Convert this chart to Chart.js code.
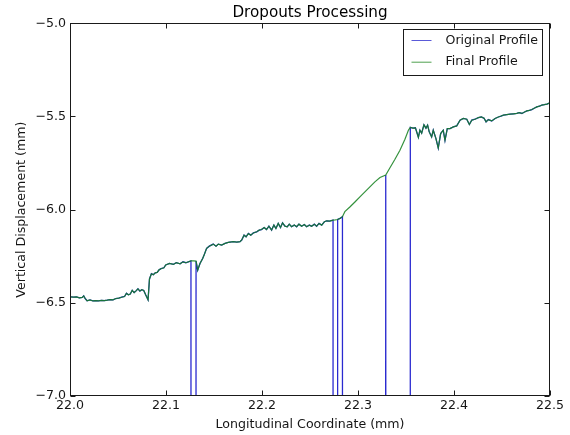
<!DOCTYPE html>
<html>
<head>
<meta charset="utf-8">
<script src="https://cdn.jsdelivr.net/npm/chart.js@4/dist/chart.umd.min.js"></script>
<style>
  html, body { margin: 0; padding: 0; background: #ffffff; }
  canvas { display: block; }
</style>
</head>
<body>
<canvas id="chart" width="570" height="435"></canvas>
<script>
// Sample positions along the profile (mm)
const coordinate = [
  22.0000, 22.0038, 22.0068, 22.0098, 22.0128, 22.0143, 22.0158, 22.0178, 22.0208, 22.0238,
  22.0268, 22.0298, 22.0328, 22.0358, 22.0388, 22.0418, 22.0448, 22.0478, 22.0508, 22.0538,
  22.0568, 22.0588, 22.0608, 22.0628, 22.0648, 22.0668, 22.0688, 22.0708, 22.0728, 22.0748,
  22.0768, 22.0788, 22.0813, 22.0828, 22.0848, 22.0868, 22.0888, 22.0908, 22.0928, 22.0948,
  22.0978,
  22.0997, 22.1037, 22.1077, 22.1107, 22.1147, 22.1177, 22.1207, 22.1260, 22.1287, 22.1313,
  22.1330, 22.1354, 22.1382, 22.1397, 22.1423, 22.1451, 22.1492, 22.1521, 22.1545, 22.1580,
  22.1615, 22.1649, 22.1701, 22.1737, 22.1771, 22.1789, 22.1813, 22.1834, 22.1858, 22.1883,
  22.1910, 22.1945,
  22.1971, 22.1995, 22.2023, 22.2047, 22.2072, 22.2100, 22.2124, 22.2145, 22.2169, 22.2193,
  22.2214, 22.2239, 22.2263, 22.2284, 22.2308, 22.2336, 22.2361, 22.2385, 22.2413, 22.2441,
  22.2465, 22.2493, 22.2517, 22.2545, 22.2569, 22.2594, 22.2622, 22.2650, 22.2674, 22.2705,
  22.2740, 22.2763, 22.2788, 22.2813, 22.2838,
  22.2863, 22.2915, 22.2968, 22.3020, 22.3072, 22.3124, 22.3176, 22.3229, 22.3289, 22.3333,
  22.3385, 22.3437, 22.3489, 22.3526, 22.3545,
  22.3572, 22.3598, 22.3629, 22.3645, 22.3663, 22.3687, 22.3708, 22.3725, 22.3742, 22.3767,
  22.3784, 22.3812, 22.3836, 22.3861, 22.3888, 22.3906, 22.3930, 22.3958, 22.3993, 22.4028,
  22.4063, 22.4097, 22.4133, 22.4160, 22.4185, 22.4219, 22.4254, 22.4285, 22.4313, 22.4334,
  22.4358, 22.4393, 22.4428, 22.4462, 22.4490, 22.4515, 22.4550, 22.4584, 22.4620, 22.4654,
  22.4680, 22.4707, 22.4735, 22.4759, 22.4785, 22.4811, 22.4840, 22.4863, 22.4890, 22.4915,
  22.4940, 22.4968, 22.5000
];

// Profile after dropout correction (mm)
const finalProfile = [
  -6.468, -6.470, -6.468, -6.473, -6.471, -6.463, -6.477, -6.489, -6.484, -6.490,
  -6.488, -6.490, -6.487, -6.488, -6.486, -6.483, -6.484, -6.477, -6.475, -6.470,
  -6.466, -6.449, -6.457, -6.453, -6.433, -6.445, -6.436, -6.425, -6.437, -6.430,
  -6.434, -6.457, -6.484, -6.372, -6.344, -6.349, -6.339, -6.337, -6.323, -6.317,
  -6.312,
  -6.297, -6.289, -6.294, -6.285, -6.291, -6.280, -6.285, -6.275, -6.275, -6.276,
  -6.325, -6.289, -6.262, -6.244, -6.208, -6.196, -6.185, -6.196, -6.185, -6.190,
  -6.181, -6.176, -6.172, -6.174, -6.172, -6.163, -6.137, -6.146, -6.128, -6.137,
  -6.125, -6.119,
  -6.110, -6.107, -6.096, -6.107, -6.089, -6.110, -6.083, -6.101, -6.074, -6.096,
  -6.071, -6.089, -6.092, -6.078, -6.092, -6.083, -6.092, -6.078, -6.089, -6.080,
  -6.092, -6.083, -6.089, -6.078, -6.089, -6.074, -6.083, -6.065, -6.060, -6.062,
  -6.056, -6.055, -6.053, -6.047, -6.038,
  -6.011, -5.986, -5.959, -5.932, -5.905, -5.878, -5.851, -5.828, -5.814, -5.775,
  -5.730, -5.681, -5.622, -5.573, -5.559,
  -5.563, -5.561, -5.612, -5.574, -5.590, -5.545, -5.563, -5.547, -5.583, -5.610,
  -5.574, -5.619, -5.670, -5.592, -5.574, -5.628, -5.565, -5.565, -5.556, -5.551,
  -5.520, -5.511, -5.515, -5.543, -5.520, -5.515, -5.506, -5.503, -5.510, -5.529,
  -5.517, -5.524, -5.511, -5.503, -5.498, -5.493, -5.490, -5.488, -5.486, -5.484,
  -5.480, -5.484, -5.476, -5.470, -5.468, -5.463, -5.455, -5.449, -5.445, -5.439,
  -5.437, -5.434, -5.427
];

// Raw profile as measured; DROP marks a sensor dropout reading
const DROP = -100;
const originalProfile = [
  -6.468, -6.470, -6.468, -6.473, -6.471, -6.463, -6.477, -6.489, -6.484, -6.490,
  -6.488, -6.490, -6.487, -6.488, -6.486, -6.483, -6.484, -6.477, -6.475, -6.470,
  -6.466, -6.449, -6.457, -6.453, -6.433, -6.445, -6.436, -6.425, -6.437, -6.430,
  -6.434, -6.457, -6.484, -6.372, -6.344, -6.349, -6.339, -6.337, -6.323, -6.317,
  -6.312,
  -6.297, -6.289, -6.294, -6.285, -6.291, -6.280, -6.285, -6.275, DROP,   -6.276,
  -6.325, -6.289, -6.262, -6.244, -6.208, -6.196, -6.185, -6.196, -6.185, -6.190,
  -6.181, -6.176, -6.172, -6.174, -6.172, -6.163, -6.137, -6.146, -6.128, -6.137,
  -6.125, -6.119,
  -6.110, -6.107, -6.096, -6.107, -6.089, -6.110, -6.083, -6.101, -6.074, -6.096,
  -6.071, -6.089, -6.092, -6.078, -6.092, -6.083, -6.092, -6.078, -6.089, -6.080,
  -6.092, -6.083, -6.089, -6.078, -6.089, -6.074, -6.083, -6.065, -6.060, -6.062,
  -6.056, DROP,   -6.053, -6.047, -6.038,
  DROP,   DROP,   DROP,   DROP,   DROP,   DROP,   DROP,   DROP,   -5.814, DROP,
  DROP,   DROP,   DROP,   DROP,   -5.559,
  -5.563, -5.561, -5.612, -5.574, -5.590, -5.545, -5.563, -5.547, -5.583, -5.610,
  -5.574, -5.619, -5.670, -5.592, -5.574, -5.628, -5.565, -5.565, -5.556, -5.551,
  -5.520, -5.511, -5.515, -5.543, -5.520, -5.515, -5.506, -5.503, -5.510, -5.529,
  -5.517, -5.524, -5.511, -5.503, -5.498, -5.493, -5.490, -5.488, -5.486, -5.484,
  -5.480, -5.484, -5.476, -5.470, -5.468, -5.463, -5.455, -5.449, -5.445, -5.439,
  -5.437, -5.434, -5.427
];

const xTickValues = [22.0, 22.1, 22.2, 22.3, 22.4, 22.5];
const yTickValues = [-7.0, -6.5, -6.0, -5.5, -5.0];

const FONT = "'DejaVu Sans', 'Liberation Sans', sans-serif";
const TEXT = '#161616';
const BASE_SIZE = 12.6;
const toPoints = (values) => coordinate.map((x, i) => ({ x, y: values[i] }));
const minusLabel = (v) => (v < 0 ? '\u2212' : '') + Math.abs(v).toFixed(1);

// Box frame with inward tick marks on all four sides
const frameTicks = {
  id: 'frameTicks',
  afterDatasetsDraw(chart) {
    const { ctx, chartArea: a, scales } = chart;
    const L = Math.round(a.left) + 0.5, R = Math.round(a.right) - 0.5;
    const T = Math.round(a.top) + 0.5, B = Math.round(a.bottom) - 0.5;
    const len = 5;
    ctx.save();
    ctx.strokeStyle = '#1a1a1a';
    ctx.lineWidth = 1;
    ctx.beginPath();
    scales.x.ticks.forEach(t => {
      const px = Math.round(scales.x.getPixelForValue(t.value)) + 0.5;
      ctx.moveTo(px, B); ctx.lineTo(px, B - len);
      ctx.moveTo(px, T); ctx.lineTo(px, T + len);
    });
    scales.y.ticks.forEach(t => {
      const py = Math.round(scales.y.getPixelForValue(t.value)) + 0.5;
      ctx.moveTo(L, py); ctx.lineTo(L + len, py);
      ctx.moveTo(R, py); ctx.lineTo(R - len, py);
    });
    ctx.stroke();
    ctx.strokeRect(L, T, R - L, B - T);
    ctx.restore();
  }
};

// Boxed legend in the upper right corner of the plot
const boxLegend = {
  id: 'boxLegend',
  afterDraw(chart) {
    const { ctx, chartArea: a } = chart;
    const w = 139, h = 46;
    const left = Math.round(a.right) - 8 - w + 0.5;
    const top = Math.round(a.top) + 6 + 0.5;
    ctx.save();
    ctx.fillStyle = '#ffffff';
    ctx.fillRect(left, top, w, h);
    ctx.strokeStyle = '#1a1a1a';
    ctx.lineWidth = 1;
    ctx.strokeRect(left, top, w, h);
    ctx.font = BASE_SIZE + 'px ' + FONT;
    ctx.textBaseline = 'middle';
    ctx.textAlign = 'left';
    chart.data.datasets.forEach((ds, i) => {
      const yy = top + 11 + i * 21.7;
      ctx.strokeStyle = ds.legendColor;
      ctx.lineWidth = 1;
      ctx.beginPath();
      ctx.moveTo(left + 8, yy);
      ctx.lineTo(left + 28, yy);
      ctx.stroke();
      ctx.fillStyle = TEXT;
      ctx.fillText(ds.label, left + 42, yy);
    });
    ctx.restore();
  }
};

new Chart(document.getElementById('chart'), {
  type: 'line',
  data: {
    datasets: [
      {
        label: 'Original Profile',
        data: toPoints(originalProfile),
        borderColor: '#2a2ad0',
        legendColor: '#5a5ad8',
        borderWidth: 1.3,
        pointRadius: 0,
        tension: 0,
        fill: false,
        order: 1
      },
      {
        label: 'Final Profile',
        data: toPoints(finalProfile),
        borderColor: 'rgba(20, 128, 30, 0.86)',
        legendColor: '#4fa04f',
        borderWidth: 1.2,
        pointRadius: 0,
        tension: 0,
        fill: false,
        order: 0
      }
    ]
  },
  options: {
    responsive: false,
    animation: false,
    devicePixelRatio: 1,
    layout: { padding: { left: 10, right: 20, top: 0, bottom: 0 } },
    plugins: {
      legend: { display: false },
      tooltip: { enabled: false },
      title: {
        display: true,
        text: 'Dropouts Processing',
        color: '#000000',
        font: { family: FONT, size: 15.2, weight: 'normal' },
        padding: { top: 4, bottom: 1 },
        fullSize: false
      }
    },
    scales: {
      x: {
        type: 'linear',
        min: 22.0,
        max: 22.5,
        afterBuildTicks: (s) => { s.ticks = xTickValues.map(value => ({ value })); },
        afterFit: (s) => { s.height = 39; },
        grid: { display: false, drawTicks: false },
        border: { display: false },
        ticks: {
          autoSkip: false,
          maxRotation: 0,
          padding: 2,
          color: TEXT,
          font: { family: FONT, size: BASE_SIZE },
          callback: (v) => v.toFixed(1)
        },
        title: {
          display: true,
          text: 'Longitudinal Coordinate (mm)',
          color: TEXT,
          font: { family: FONT, size: BASE_SIZE },
          padding: { top: 4, bottom: 3 }
        }
      },
      y: {
        type: 'linear',
        min: -7.0,
        max: -5.0,
        afterBuildTicks: (s) => { s.ticks = yTickValues.map(value => ({ value })); },
        afterFit: (s) => { s.width = 60; },
        grid: { display: false, drawTicks: false },
        border: { display: false },
        ticks: {
          autoSkip: false,
          padding: 4,
          color: TEXT,
          font: { family: FONT, size: BASE_SIZE },
          callback: (v) => minusLabel(v)
        },
        title: {
          display: true,
          text: 'Vertical Displacement (mm)',
          color: TEXT,
          font: { family: FONT, size: BASE_SIZE },
          padding: { top: 4, bottom: 4 }
        }
      }
    }
  },
  plugins: [frameTicks, boxLegend]
});
</script>
</body>
</html>
